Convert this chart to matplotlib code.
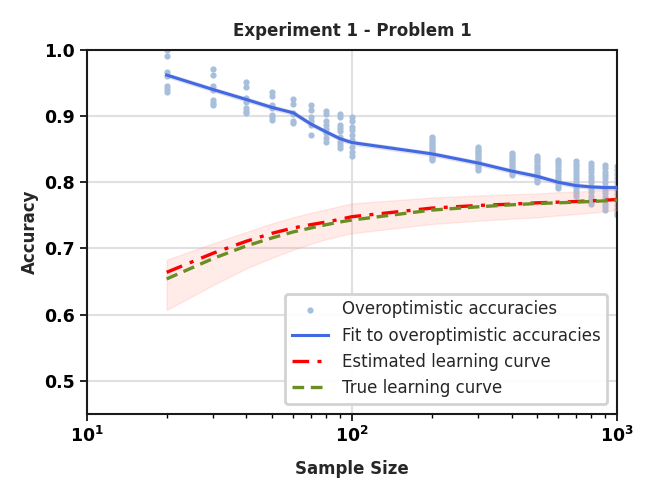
import matplotlib
matplotlib.use("Agg")
import matplotlib.pyplot as plt
import numpy as np

# sample sizes
sizes = [20, 30, 40, 50, 60, 70, 80, 90, 100, 200, 300, 400, 500, 600, 700, 800, 900, 1000]

# overoptimistic accuracies (scatter), one list per sample size
over_acc = [
    [1.0, 0.991, 0.967, 0.960, 0.945, 0.941, 0.937],
    [0.971, 0.962, 0.945, 0.940, 0.924, 0.920, 0.917],
    [0.951, 0.944, 0.927, 0.922, 0.912, 0.908, 0.904],
    [0.936, 0.931, 0.917, 0.912, 0.902, 0.898, 0.894],
    [0.926, 0.919, 0.905, 0.903, 0.892, 0.889],
    [0.917, 0.909, 0.899, 0.892, 0.887, 0.872],
    [0.908, 0.903, 0.892, 0.887, 0.880, 0.875, 0.867, 0.861],
    [0.903, 0.898, 0.887, 0.882, 0.877, 0.869, 0.861, 0.856, 0.852],
    [0.899, 0.892, 0.884, 0.879, 0.872, 0.864, 0.854, 0.846, 0.840],
    [0.868, 0.865, 0.862, 0.859, 0.856, 0.853, 0.850, 0.847, 0.845, 0.842,
     0.840, 0.838, 0.835, 0.833],
    [0.854, 0.851, 0.848, 0.845, 0.842, 0.839, 0.836, 0.833, 0.830, 0.827,
     0.825, 0.822, 0.819],
    [0.844, 0.841, 0.838, 0.835, 0.832, 0.829, 0.826, 0.823, 0.820, 0.817,
     0.814, 0.811],
    [0.839, 0.836, 0.833, 0.830, 0.826, 0.823, 0.820, 0.816, 0.813, 0.810,
     0.806, 0.803, 0.800],
    [0.834, 0.831, 0.827, 0.823, 0.819, 0.815, 0.811, 0.807, 0.803, 0.799,
     0.795, 0.791],
    [0.832, 0.828, 0.824, 0.820, 0.815, 0.811, 0.806, 0.802, 0.797, 0.793,
     0.788, 0.784, 0.779],
    [0.829, 0.825, 0.820, 0.815, 0.810, 0.805, 0.800, 0.795, 0.790, 0.785,
     0.780, 0.775, 0.770, 0.767],
    [0.826, 0.821, 0.816, 0.811, 0.806, 0.800, 0.795, 0.789, 0.784, 0.778,
     0.773, 0.767, 0.762, 0.758],
    [0.824, 0.819, 0.813, 0.807, 0.801, 0.795, 0.789, 0.783, 0.777, 0.771,
     0.765, 0.759, 0.754, 0.751],
]

fit = [0.962, 0.940, 0.925, 0.913, 0.905, 0.888, 0.876, 0.866, 0.860,
       0.843, 0.829, 0.817, 0.809, 0.800, 0.795, 0.793, 0.792, 0.792]

estimated = [0.664, 0.693, 0.711, 0.723, 0.731, 0.736, 0.740, 0.744, 0.748,
             0.761, 0.765, 0.767, 0.769, 0.770, 0.771, 0.772, 0.773, 0.774]
est_upper = [0.683, 0.708, 0.725, 0.738, 0.747, 0.754, 0.759, 0.764, 0.768,
             0.777, 0.780, 0.782, 0.783, 0.785, 0.786, 0.787, 0.788, 0.789]
est_lower = [0.607, 0.645, 0.670, 0.686, 0.698, 0.707, 0.714, 0.719, 0.723,
             0.737, 0.742, 0.745, 0.747, 0.750, 0.752, 0.754, 0.756, 0.758]

true_curve = [0.654, 0.685, 0.704, 0.716, 0.725, 0.731, 0.736, 0.740, 0.743,
              0.758, 0.763, 0.766, 0.768, 0.769, 0.770, 0.771, 0.772, 0.773]

fig, ax = plt.subplots(figsize=(6.53, 4.94), dpi=100)

xs = [s for s, accs in zip(sizes, over_acc) for _ in accs]
ys = [a for accs in over_acc for a in accs]
ax.scatter(xs, ys, s=12, color='#a8bfdc', label='Overoptimistic accuracies', zorder=2)

ax.fill_between(sizes, np.array(fit) - 0.004, np.array(fit) + 0.004,
                color='#b8b0e0', alpha=0.4, lw=0, zorder=3)
ax.plot(sizes, fit, color='#4169e1', lw=2.2, label='Fit to overoptimistic accuracies', zorder=4)

ax.fill_between(sizes, est_lower, est_upper, color='#ff9c90', alpha=0.2,
                edgecolor='#ff9c90', lw=1, zorder=3)
ax.plot(sizes, estimated, color='red', lw=2.4, ls=(0, (5, 2.5, 1.2, 2.5)),
        label='Estimated learning curve', zorder=5)
ax.plot(sizes, true_curve, color='#6b8e23', lw=2.4, ls=(0, (3.5, 2)),
        label='True learning curve', zorder=5)

ax.set_xscale('log')
ax.set_xlim(10, 1000)
ax.set_ylim(0.45, 1.0)
ax.set_yticks([0.5, 0.6, 0.7, 0.8, 0.9, 1.0])

ax.grid(True, which='major', color='#e0e0e0', lw=1.5, zorder=0)
ax.set_axisbelow(True)
for sp in ax.spines.values():
    sp.set_color('#1a1a1a')
    sp.set_linewidth(1.5)

ax.tick_params(axis='both', which='major', length=5, width=1.2, labelsize=12.5)
ax.tick_params(axis='x', which='minor', length=3, width=1.0)
for lbl in ax.get_xticklabels() + ax.get_yticklabels():
    lbl.set_fontweight('bold')

ax.set_title('Experiment 1 - Problem 1', fontsize=12, fontweight='bold', color='#262626', pad=10)
ax.set_xlabel('Sample Size', fontsize=12, fontweight='bold', color='#262626', labelpad=10)
ax.set_ylabel('Accuracy', fontsize=12, fontweight='bold', color='#262626')

leg = ax.legend(loc='lower right', fontsize=12, frameon=True, fancybox=True,
                borderaxespad=0.6, handlelength=2.2)
leg.get_frame().set_edgecolor('#d0d0d0')
leg.get_frame().set_linewidth(2)
leg.get_frame().set_alpha(0.95)
for t in leg.get_texts():
    t.set_color('#262626')

fig.subplots_adjust(left=0.133, right=0.945, top=0.899, bottom=0.162)
fig.savefig('out.png', dpi=100)
